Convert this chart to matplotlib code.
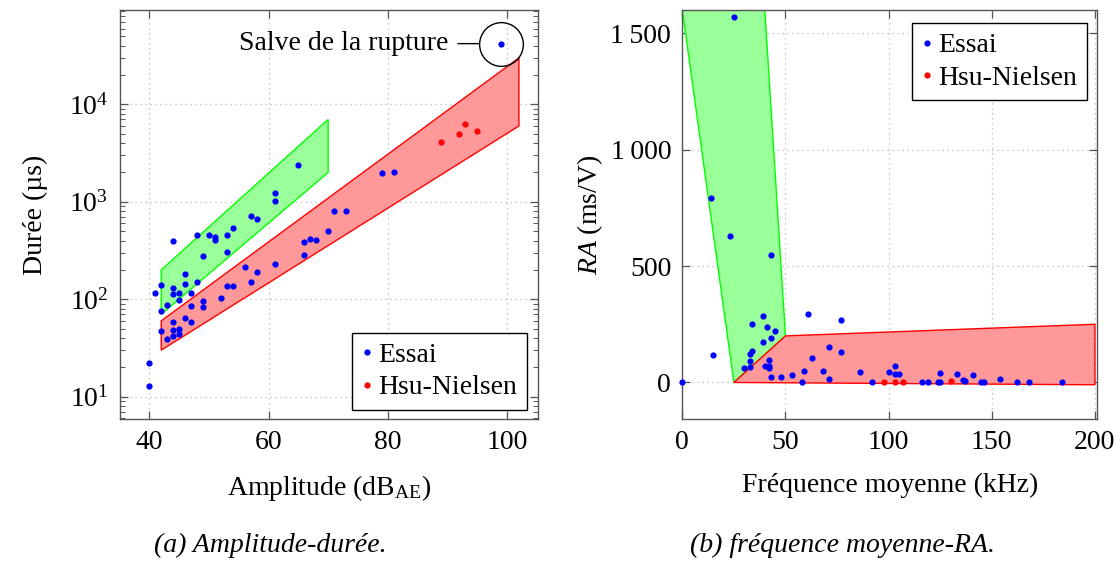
import numpy as np
import matplotlib.pyplot as plt
from matplotlib.ticker import LogLocator, FixedLocator, NullFormatter

plt.rcParams['font.family'] = ['Liberation Serif', 'DejaVu Serif']
plt.rcParams['mathtext.fontset'] = 'custom'
plt.rcParams['mathtext.rm'] = 'Liberation Serif'
plt.rcParams['mathtext.it'] = 'Liberation Serif:italic'
plt.rcParams['font.size'] = 20

# (a) amplitude - duree
amp_essai = [65, 61, 61, 57, 58, 54, 53, 53, 50, 51, 51, 48, 49, 44, 46, 46, 48, 44, 44, 45,
             47, 45, 42, 41, 43, 42, 47, 49, 49, 52, 53, 54, 56, 57, 58, 61, 44, 46, 47, 42,
             44, 45, 44, 45, 43, 40, 40, 66, 67, 68, 66, 70, 71, 73, 79, 81, 99]
dur_essai = [2410, 1225, 1030, 720, 663, 542, 452, 303, 452, 435, 402, 452, 277, 400, 181, 143,
             149, 130, 114, 117, 117, 98, 141, 116, 87, 75, 85, 97, 83, 102, 138, 138, 213, 150,
             189, 232, 58, 64, 58, 47, 48, 50, 42, 44, 39, 22, 13, 386, 418, 402, 282, 500, 810,
             810, 1960, 2010, 42000]
amp_hsu = [89, 92, 93, 95]
dur_hsu = [4110, 5010, 6280, 5330]
salve = (99, 42000)

zone_verte_a = [(42, 200), (70, 7000), (70, 2000), (42, 70)]
zone_rouge_a = [(42, 60), (102, 30000), (102, 6000), (42, 30)]

# (b) frequence moyenne - RA
freq_essai = [25, 14, 23, 43, 61, 39, 77, 34, 41, 45, 43, 39, 15, 34, 33, 33, 42, 30, 33, 40,
              42, 42, 43, 48, 53, 58, 59, 63, 0, 71, 77, 68, 71, 86, 92, 100, 103, 103, 105,
              116, 119, 124, 125, 125, 133, 136, 137, 141, 145, 146, 154, 162, 168, 184]
ra_essai = [1570, 794, 631, 549, 296, 286, 270, 250, 240, 220, 191, 172, 120, 134, 121, 91, 96,
            60, 67, 71, 71, 60, 23, 23, 30, 1, 51, 107, 0, 151, 130, 48, 13, 44, 1, 45, 71, 36,
            36, 1, 3, 3, 1, 41, 36, 10, 7, 31, 3, 1, 14, 3, 3, 4]
freq_hsu = [98, 103, 107, 130]
ra_hsu = [1, 1, 1, 6]

zone_verte_b = [(0, 1600), (40, 1600), (50, 200), (25, 0)]
zone_rouge_b = [(25, 0), (50, 200), (200, 250), (200, -10)]

vert_fill, vert_edge = '#99ff99', '#00ff00'
rouge_fill, rouge_edge = '#ff9999', '#ff0000'

fig = plt.figure(figsize=(11.2, 5.61), dpi=100)
ax1 = fig.add_axes([119.5 / 1120, 1 - 419 / 561, (538 - 119.5) / 1120, 409 / 561])
ax2 = fig.add_axes([682.3 / 1120, 1 - 419 / 561, (1097 - 682.3) / 1120, 409 / 561])


def style(ax):
    ax.grid(True, which='major', color='#b8b8b8', linestyle=(0, (1, 3)), linewidth=0.9)
    ax.set_axisbelow(True)
    ax.tick_params(which='both', direction='in', top=True, right=True, color='#555555')
    ax.tick_params(which='major', length=6, width=0.9, pad=8)
    ax.tick_params(which='minor', length=3.5, width=0.7)
    for s in ax.spines.values():
        s.set_color('#555555')
        s.set_linewidth(1.0)


# --- (a)
ax1.fill([p[0] for p in zone_verte_a], [p[1] for p in zone_verte_a],
         facecolor=vert_fill, edgecolor=vert_edge, lw=1)
ax1.fill([p[0] for p in zone_rouge_a], [p[1] for p in zone_rouge_a],
         facecolor=rouge_fill, edgecolor=rouge_edge, lw=1)
ax1.plot(amp_essai, dur_essai, 'o', color='#0000ff', ms=4.5, mew=0, label='Essai', zorder=3)
ax1.plot(amp_hsu, dur_hsu, 'o', color='#ff0000', ms=4.5, mew=0, label='Hsu-Nielsen', zorder=3)
ax1.plot([salve[0]], [salve[1]], 'o', ms=31.5, mfc='none', mec='black', mew=1.0, zorder=4)
ax1.annotate('Salve de la rupture', xy=salve, xytext=(-38, 0), textcoords='offset points',
             ha='right', va='center', fontsize=20,
             arrowprops=dict(arrowstyle='-', color='black', lw=1, shrinkA=5, shrinkB=16))
ax1.set_yscale('log')
ax1.set_xlim(35, 105.2)
ax1.set_ylim(5.9, 93000)
ax1.xaxis.set_major_locator(FixedLocator([40, 60, 80, 100]))
ax1.yaxis.set_major_locator(FixedLocator([10, 100, 1000, 10000]))
ax1.yaxis.set_major_formatter(plt.FuncFormatter(lambda v, p: r'$10^{%d}$' % round(np.log10(v))))
ax1.yaxis.set_minor_locator(LogLocator(base=10, subs=np.arange(2, 10)))
ax1.yaxis.set_minor_formatter(NullFormatter())
style(ax1)
ax1.set_xlabel(r'Amplitude (dB$_{\mathrm{AE}}$)', labelpad=13)
ax1.set_ylabel('Durée (µs)', labelpad=15)
ax1.legend(loc='lower right', bbox_to_anchor=(0.974, 0.022), fancybox=False, edgecolor='black',
           framealpha=1, handlelength=0.35, handletextpad=0.25, borderpad=0.35,
           fontsize=20, labelspacing=0.25, borderaxespad=0)

# --- (b)
ax2.fill([p[0] for p in zone_verte_b], [p[1] for p in zone_verte_b],
         facecolor=vert_fill, edgecolor=vert_edge, lw=1)
ax2.fill([p[0] for p in zone_rouge_b], [p[1] for p in zone_rouge_b],
         facecolor=rouge_fill, edgecolor=rouge_edge, lw=1)
ax2.plot(freq_essai, ra_essai, 'o', color='#0000ff', ms=4.5, mew=0, label='Essai', zorder=3,
         clip_on=False)
ax2.plot(freq_hsu, ra_hsu, 'o', color='#ff0000', ms=4.5, mew=0, label='Hsu-Nielsen', zorder=3)
ax2.set_xlim(0, 201)
ax2.set_ylim(-157, 1600)
ax2.xaxis.set_major_locator(FixedLocator([0, 50, 100, 150, 200]))
ax2.yaxis.set_major_locator(FixedLocator([0, 500, 1000, 1500]))
ax2.yaxis.set_major_formatter(plt.FuncFormatter(
    lambda v, p: '{:,}'.format(int(v)).replace(',', '\u2009')))
style(ax2)
ax2.set_xlabel('Fréquence moyenne (kHz)', labelpad=13)
ax2.set_ylabel(r'$RA$ (ms/V)', labelpad=4)
ax2.legend(loc='upper right', bbox_to_anchor=(0.976, 0.968), fancybox=False, edgecolor='black',
           framealpha=1, handlelength=0.35, handletextpad=0.25, borderpad=0.35,
           fontsize=20, labelspacing=0.25, borderaxespad=0)

fig.text(270 / 1120, 1 - 545 / 561, '(a) Amplitude-durée.', ha='center', va='center',
         style='italic', fontsize=20)
fig.text(842 / 1120, 1 - 545 / 561, '(b) fréquence moyenne-RA.', ha='center', va='center',
         style='italic', fontsize=20)

fig.savefig('out.png', dpi=100)
